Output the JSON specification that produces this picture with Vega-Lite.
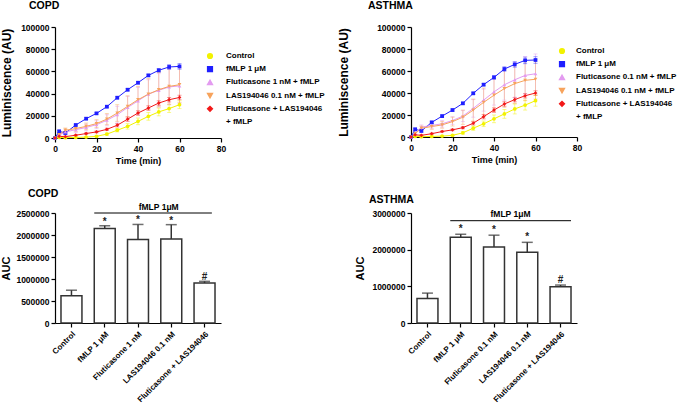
{
"$schema":"https://vega.github.io/schema/vega-lite/v6.json",
"background":"white",
"padding":{"left":0,"top":0,"right":0,"bottom":0},
"config":{
 "font":"Liberation Sans",
 "view":{"stroke":null},
 "axis":{"domainColor":"black","tickColor":"black","labelColor":"black","titleColor":"black","labelFont":"Liberation Sans","titleFont":"Liberation Sans","labelFontWeight":"bold","titleFontWeight":"bold","labelFontSize":8.5,"grid":false,"tickSize":4,"domainWidth":1.2,"tickWidth":1.2,"labelPadding":2,"labelOverlap":false,"labelFlush":false},
 "title":{"font":"Liberation Sans","fontWeight":"bold","fontSize":10.5,"color":"black"},
 "legend":{"labelFont":"Liberation Sans","labelFontWeight":"bold","labelFontSize":8,"labelColor":"black","symbolOpacity":1}
},
"datasets":{
"copd_lines":[
{"s":"Control","t":0,"v":0,"lo":0,"hi":0},{"s":"Control","t":2,"v":500,"lo":200,"hi":800},{"s":"Control","t":5,"v":300,"lo":0,"hi":600},{"s":"Control","t":10,"v":500,"lo":200,"hi":800},{"s":"Control","t":15,"v":800,"lo":400,"hi":1200},{"s":"Control","t":20,"v":1500,"lo":900,"hi":2100},{"s":"Control","t":25,"v":3500,"lo":2500,"hi":4500},{"s":"Control","t":30,"v":7000,"lo":5500,"hi":8500},{"s":"Control","t":35,"v":10500,"lo":8000,"hi":13000},{"s":"Control","t":40,"v":15000,"lo":12000,"hi":18000},{"s":"Control","t":45,"v":19500,"lo":16000,"hi":23000},{"s":"Control","t":50,"v":23500,"lo":20000,"hi":27000},{"s":"Control","t":55,"v":26500,"lo":23000,"hi":30000},{"s":"Control","t":60,"v":30000,"lo":26500,"hi":33500},
{"s":"fMLP 1 μM","t":0,"v":0,"lo":0,"hi":0},{"s":"fMLP 1 μM","t":2,"v":6000,"lo":5000,"hi":7000},{"s":"fMLP 1 μM","t":5,"v":4500,"lo":3500,"hi":5500},{"s":"fMLP 1 μM","t":10,"v":11700,"lo":10900,"hi":12500},{"s":"fMLP 1 μM","t":15,"v":17400,"lo":16600,"hi":18200},{"s":"fMLP 1 μM","t":20,"v":22200,"lo":21400,"hi":23000},{"s":"fMLP 1 μM","t":25,"v":28200,"lo":27400,"hi":29000},{"s":"fMLP 1 μM","t":30,"v":36300,"lo":35300,"hi":37300},{"s":"fMLP 1 μM","t":35,"v":43500,"lo":42500,"hi":44500},{"s":"fMLP 1 μM","t":40,"v":49800,"lo":48800,"hi":50800},{"s":"fMLP 1 μM","t":45,"v":56400,"lo":55400,"hi":57400},{"s":"fMLP 1 μM","t":50,"v":61000,"lo":59500,"hi":62500},{"s":"fMLP 1 μM","t":55,"v":64000,"lo":62000,"hi":66000},{"s":"fMLP 1 μM","t":60,"v":64500,"lo":62000,"hi":67000},
{"s":"Fluticasone 1 nM + fMLP","t":0,"v":0,"lo":0,"hi":0},{"s":"Fluticasone 1 nM + fMLP","t":2,"v":2500,"lo":1000,"hi":4000},{"s":"Fluticasone 1 nM + fMLP","t":5,"v":5500,"lo":3500,"hi":7500},{"s":"Fluticasone 1 nM + fMLP","t":10,"v":7500,"lo":5000,"hi":10000},{"s":"Fluticasone 1 nM + fMLP","t":15,"v":9500,"lo":6500,"hi":12500},{"s":"Fluticasone 1 nM + fMLP","t":20,"v":12000,"lo":8500,"hi":15500},{"s":"Fluticasone 1 nM + fMLP","t":25,"v":16000,"lo":11000,"hi":21000},{"s":"Fluticasone 1 nM + fMLP","t":30,"v":21000,"lo":13500,"hi":28500},{"s":"Fluticasone 1 nM + fMLP","t":35,"v":27500,"lo":17500,"hi":37500},{"s":"Fluticasone 1 nM + fMLP","t":40,"v":33500,"lo":21500,"hi":45500},{"s":"Fluticasone 1 nM + fMLP","t":45,"v":39500,"lo":26500,"hi":52500},{"s":"Fluticasone 1 nM + fMLP","t":50,"v":43000,"lo":28000,"hi":58000},{"s":"Fluticasone 1 nM + fMLP","t":55,"v":46000,"lo":30000,"hi":62000},{"s":"Fluticasone 1 nM + fMLP","t":60,"v":47000,"lo":31000,"hi":63000},
{"s":"LAS194046 0.1 nM + fMLP","t":0,"v":0,"lo":0,"hi":0},{"s":"LAS194046 0.1 nM + fMLP","t":2,"v":3000,"lo":1500,"hi":4500},{"s":"LAS194046 0.1 nM + fMLP","t":5,"v":7000,"lo":5000,"hi":9000},{"s":"LAS194046 0.1 nM + fMLP","t":10,"v":8500,"lo":6000,"hi":11000},{"s":"LAS194046 0.1 nM + fMLP","t":15,"v":10500,"lo":7500,"hi":13500},{"s":"LAS194046 0.1 nM + fMLP","t":20,"v":13000,"lo":9500,"hi":16500},{"s":"LAS194046 0.1 nM + fMLP","t":25,"v":17000,"lo":12000,"hi":22000},{"s":"LAS194046 0.1 nM + fMLP","t":30,"v":22500,"lo":15000,"hi":30000},{"s":"LAS194046 0.1 nM + fMLP","t":35,"v":28500,"lo":19000,"hi":38000},{"s":"LAS194046 0.1 nM + fMLP","t":40,"v":34500,"lo":22500,"hi":46500},{"s":"LAS194046 0.1 nM + fMLP","t":45,"v":39500,"lo":25500,"hi":53500},{"s":"LAS194046 0.1 nM + fMLP","t":50,"v":43500,"lo":28000,"hi":59000},{"s":"LAS194046 0.1 nM + fMLP","t":55,"v":46500,"lo":30500,"hi":62500},{"s":"LAS194046 0.1 nM + fMLP","t":60,"v":48000,"lo":32000,"hi":64000},
{"s":"Fluticasone + LAS194046 + fMLP","t":0,"v":0,"lo":0,"hi":0},{"s":"Fluticasone + LAS194046 + fMLP","t":2,"v":1500,"lo":1000,"hi":2000},{"s":"Fluticasone + LAS194046 + fMLP","t":5,"v":1200,"lo":700,"hi":1700},{"s":"Fluticasone + LAS194046 + fMLP","t":10,"v":2500,"lo":1900,"hi":3100},{"s":"Fluticasone + LAS194046 + fMLP","t":15,"v":4000,"lo":3300,"hi":4700},{"s":"Fluticasone + LAS194046 + fMLP","t":20,"v":5500,"lo":4700,"hi":6300},{"s":"Fluticasone + LAS194046 + fMLP","t":25,"v":7800,"lo":6800,"hi":8800},{"s":"Fluticasone + LAS194046 + fMLP","t":30,"v":11500,"lo":10000,"hi":13000},{"s":"Fluticasone + LAS194046 + fMLP","t":35,"v":17000,"lo":15000,"hi":19000},{"s":"Fluticasone + LAS194046 + fMLP","t":40,"v":22500,"lo":20500,"hi":24500},{"s":"Fluticasone + LAS194046 + fMLP","t":45,"v":27000,"lo":25000,"hi":29000},{"s":"Fluticasone + LAS194046 + fMLP","t":50,"v":31500,"lo":29500,"hi":33500},{"s":"Fluticasone + LAS194046 + fMLP","t":55,"v":34500,"lo":32500,"hi":36500},{"s":"Fluticasone + LAS194046 + fMLP","t":60,"v":36500,"lo":34500,"hi":38500}
],
"asthma_lines":[
{"s":"Control","t":0,"v":0,"lo":0,"hi":0},{"s":"Control","t":2,"v":500,"lo":200,"hi":800},{"s":"Control","t":5,"v":300,"lo":0,"hi":600},{"s":"Control","t":10,"v":500,"lo":200,"hi":800},{"s":"Control","t":15,"v":800,"lo":400,"hi":1200},{"s":"Control","t":20,"v":1500,"lo":900,"hi":2100},{"s":"Control","t":25,"v":3800,"lo":2600,"hi":5000},{"s":"Control","t":30,"v":8000,"lo":6000,"hi":10000},{"s":"Control","t":35,"v":12000,"lo":9500,"hi":14500},{"s":"Control","t":40,"v":16500,"lo":13000,"hi":20000},{"s":"Control","t":45,"v":21000,"lo":17000,"hi":25000},{"s":"Control","t":50,"v":25500,"lo":21000,"hi":30000},{"s":"Control","t":55,"v":29000,"lo":24500,"hi":33500},{"s":"Control","t":60,"v":33000,"lo":28000,"hi":38000},
{"s":"fMLP 1 μM","t":0,"v":0,"lo":0,"hi":0},{"s":"fMLP 1 μM","t":2,"v":7000,"lo":6000,"hi":8000},{"s":"fMLP 1 μM","t":5,"v":5500,"lo":4500,"hi":6500},{"s":"fMLP 1 μM","t":10,"v":13300,"lo":12300,"hi":14300},{"s":"fMLP 1 μM","t":15,"v":19000,"lo":18000,"hi":20000},{"s":"fMLP 1 μM","t":20,"v":24500,"lo":23500,"hi":25500},{"s":"fMLP 1 μM","t":25,"v":30600,"lo":29600,"hi":31600},{"s":"fMLP 1 μM","t":30,"v":39700,"lo":38700,"hi":40700},{"s":"fMLP 1 μM","t":35,"v":47600,"lo":46600,"hi":48600},{"s":"fMLP 1 μM","t":40,"v":54200,"lo":52700,"hi":55700},{"s":"fMLP 1 μM","t":45,"v":61800,"lo":59800,"hi":63800},{"s":"fMLP 1 μM","t":50,"v":66000,"lo":63500,"hi":68500},{"s":"fMLP 1 μM","t":55,"v":69700,"lo":66700,"hi":72700},{"s":"fMLP 1 μM","t":60,"v":70000,"lo":67000,"hi":73000},
{"s":"Fluticasone 0.1 nM + fMLP","t":0,"v":0,"lo":0,"hi":0},{"s":"Fluticasone 0.1 nM + fMLP","t":2,"v":3000,"lo":1500,"hi":4500},{"s":"Fluticasone 0.1 nM + fMLP","t":5,"v":9000,"lo":7000,"hi":11000},{"s":"Fluticasone 0.1 nM + fMLP","t":10,"v":10500,"lo":8000,"hi":13000},{"s":"Fluticasone 0.1 nM + fMLP","t":15,"v":12000,"lo":9000,"hi":15000},{"s":"Fluticasone 0.1 nM + fMLP","t":20,"v":15000,"lo":11500,"hi":18500},{"s":"Fluticasone 0.1 nM + fMLP","t":25,"v":19000,"lo":14000,"hi":24000},{"s":"Fluticasone 0.1 nM + fMLP","t":30,"v":26000,"lo":18000,"hi":34000},{"s":"Fluticasone 0.1 nM + fMLP","t":35,"v":33500,"lo":23500,"hi":43500},{"s":"Fluticasone 0.1 nM + fMLP","t":40,"v":41000,"lo":29000,"hi":53000},{"s":"Fluticasone 0.1 nM + fMLP","t":45,"v":47500,"lo":33500,"hi":61500},{"s":"Fluticasone 0.1 nM + fMLP","t":50,"v":52000,"lo":36000,"hi":68000},{"s":"Fluticasone 0.1 nM + fMLP","t":55,"v":56000,"lo":39000,"hi":73000},{"s":"Fluticasone 0.1 nM + fMLP","t":60,"v":57500,"lo":39500,"hi":75500},
{"s":"LAS194046 0.1 nM + fMLP","t":0,"v":0,"lo":0,"hi":0},{"s":"LAS194046 0.1 nM + fMLP","t":2,"v":3000,"lo":1500,"hi":4500},{"s":"LAS194046 0.1 nM + fMLP","t":5,"v":8000,"lo":6000,"hi":10000},{"s":"LAS194046 0.1 nM + fMLP","t":10,"v":9500,"lo":7000,"hi":12000},{"s":"LAS194046 0.1 nM + fMLP","t":15,"v":11000,"lo":8000,"hi":14000},{"s":"LAS194046 0.1 nM + fMLP","t":20,"v":14000,"lo":10000,"hi":18000},{"s":"LAS194046 0.1 nM + fMLP","t":25,"v":18000,"lo":11500,"hi":24500},{"s":"LAS194046 0.1 nM + fMLP","t":30,"v":24500,"lo":14500,"hi":34500},{"s":"LAS194046 0.1 nM + fMLP","t":35,"v":31500,"lo":18500,"hi":44500},{"s":"LAS194046 0.1 nM + fMLP","t":40,"v":38000,"lo":23000,"hi":53000},{"s":"LAS194046 0.1 nM + fMLP","t":45,"v":44000,"lo":27000,"hi":61000},{"s":"LAS194046 0.1 nM + fMLP","t":50,"v":48500,"lo":30500,"hi":66500},{"s":"LAS194046 0.1 nM + fMLP","t":55,"v":51500,"lo":33000,"hi":70000},{"s":"LAS194046 0.1 nM + fMLP","t":60,"v":52500,"lo":34500,"hi":70500},
{"s":"Fluticasone + LAS194046 + fMLP","t":0,"v":0,"lo":0,"hi":0},{"s":"Fluticasone + LAS194046 + fMLP","t":2,"v":2000,"lo":1500,"hi":2500},{"s":"Fluticasone + LAS194046 + fMLP","t":5,"v":1500,"lo":1000,"hi":2000},{"s":"Fluticasone + LAS194046 + fMLP","t":10,"v":3000,"lo":2500,"hi":3500},{"s":"Fluticasone + LAS194046 + fMLP","t":15,"v":5000,"lo":4400,"hi":5600},{"s":"Fluticasone + LAS194046 + fMLP","t":20,"v":6500,"lo":5700,"hi":7300},{"s":"Fluticasone + LAS194046 + fMLP","t":25,"v":8500,"lo":7500,"hi":9500},{"s":"Fluticasone + LAS194046 + fMLP","t":30,"v":12500,"lo":11000,"hi":14000},{"s":"Fluticasone + LAS194046 + fMLP","t":35,"v":18500,"lo":16500,"hi":20500},{"s":"Fluticasone + LAS194046 + fMLP","t":40,"v":24500,"lo":22500,"hi":26500},{"s":"Fluticasone + LAS194046 + fMLP","t":45,"v":30000,"lo":28000,"hi":32000},{"s":"Fluticasone + LAS194046 + fMLP","t":50,"v":34000,"lo":32000,"hi":36000},{"s":"Fluticasone + LAS194046 + fMLP","t":55,"v":37500,"lo":35500,"hi":39500},{"s":"Fluticasone + LAS194046 + fMLP","t":60,"v":40000,"lo":38000,"hi":42000}
],
"copd_auc":[
{"g":"Control","v":620000,"hi":745000,"m":""},
{"g":"fMLP 1 μM","v":2145000,"hi":2210000,"m":"*"},
{"g":"Fluticasone 1 nM","v":1895000,"hi":2240000,"m":"*"},
{"g":"LAS194046 0.1 nM","v":1910000,"hi":2235000,"m":"*"},
{"g":"Fluticasone + LAS194046","v":910000,"hi":947000,"m":"#"}
],
"asthma_auc":[
{"g":"Control","v":670000,"hi":815000,"m":""},
{"g":"fMLP 1 μM","v":2340000,"hi":2420000,"m":"*"},
{"g":"Fluticasone 0.1 nM","v":2072000,"hi":2395000,"m":"*"},
{"g":"LAS194046 0.1 nM","v":1927000,"hi":2200000,"m":"*"},
{"g":"Fluticasone + LAS194046","v":991000,"hi":1035000,"m":"#"}
],
"copd_ann":[{"a":"fMLP 1 μM","b":"Fluticasone + LAS194046","c":"LAS194046 0.1 nM","lev":2500000,"label":"fMLP 1μM"}],
"asthma_ann":[{"a":"fMLP 1 μM","b":"Fluticasone + LAS194046","c":"LAS194046 0.1 nM","lev":2790000,"label":"fMLP 1μM"}]
},
"columns":2,
"spacing":{"row":22,"column":12},
"align":"each",
"resolve":{"scale":{"color":"independent","shape":"independent","x":"independent","y":"independent"},"legend":{"color":"independent","shape":"independent"}},
"concat":[
{
 "width":166,"height":111,
 "title":{"text":"COPD","anchor":"start","frame":"group","dx":-26,"offset":12},
 "data":{"name":"copd_lines"},
 "encoding":{
  "x":{"field":"t","type":"quantitative","title":"Time (min)","scale":{"domain":[0,80],"nice":false},"axis":{"values":[0,20,40,60,80],"format":"d","titleFontSize":9,"titlePadding":4}},
  "y":{"field":"v","type":"quantitative","title":"Luminiscence (AU)","scale":{"domain":[0,100000],"nice":false},"axis":{"values":[0,20000,40000,60000,80000,100000],"format":"d","titleFontSize":12,"titlePadding":7,"labelOverlap":false}},
  "color":{"field":"s","type":"nominal","scale":{"domain":["Control","fMLP 1 μM","Fluticasone 1 nM + fMLP","LAS194046 0.1 nM + fMLP","Fluticasone + LAS194046 + fMLP","+ fMLP"],"range":["#F2F200","#1F1FFF","#E39BF0","#F7A35C","#F21818","transparent"]},"legend":{"orient":"none","legendX":151,"legendY":25,"title":null,"symbolSize":22,"rowPadding":1.2,"labelOffset":12,"labelExpr":"datum.label == 'Fluticasone + LAS194046 + fMLP' ? 'Fluticasone + LAS194046' : datum.label"}}
 },
 "layer":[
  {"mark":{"type":"rule","opacity":0.45,"strokeWidth":1},"encoding":{"y":{"field":"lo","type":"quantitative","title":"Luminiscence (AU)","scale":{"domain":[0,100000],"nice":false},"axis":{"values":[0,20000,40000,60000,80000,100000],"format":"d","titleFontSize":12,"titlePadding":7,"labelOverlap":false}},"y2":{"field":"hi"}}},
  {"mark":{"type":"tick","orient":"horizontal","size":4,"thickness":1,"opacity":0.45},"encoding":{"y":{"field":"hi","type":"quantitative","title":"Luminiscence (AU)","scale":{"domain":[0,100000],"nice":false},"axis":{"values":[0,20000,40000,60000,80000,100000],"format":"d","titleFontSize":12,"titlePadding":7,"labelOverlap":false}}}},
  {"mark":{"type":"tick","orient":"horizontal","size":4,"thickness":1,"opacity":0.45},"encoding":{"y":{"field":"lo","type":"quantitative","title":"Luminiscence (AU)","scale":{"domain":[0,100000],"nice":false},"axis":{"values":[0,20000,40000,60000,80000,100000],"format":"d","titleFontSize":12,"titlePadding":7,"labelOverlap":false}}}},
  {"mark":{"type":"line","strokeWidth":1}},
  {"mark":{"type":"point","filled":true,"size":14,"opacity":1},"encoding":{"shape":{"field":"s","type":"nominal","scale":{"domain":["Control","fMLP 1 μM","Fluticasone 1 nM + fMLP","LAS194046 0.1 nM + fMLP","Fluticasone + LAS194046 + fMLP","+ fMLP"],"range":["circle","square","triangle-up","triangle-down","diamond","circle"]},"legend":{"orient":"none","legendX":151,"legendY":25,"title":null,"symbolSize":22,"rowPadding":1.2,"labelOffset":12,"labelExpr":"datum.label == 'Fluticasone + LAS194046 + fMLP' ? 'Fluticasone + LAS194046' : datum.label"}}}}
 ]
},
{
 "width":166,"height":110,
 "title":{"text":"ASTHMA","anchor":"start","frame":"group","dx":-43,"offset":12},
 "data":{"name":"asthma_lines"},
 "encoding":{
  "x":{"field":"t","type":"quantitative","title":"Time (min)","scale":{"domain":[0,80],"nice":false},"axis":{"values":[0,20,40,60,80],"format":"d","titleFontSize":9,"titlePadding":4}},
  "y":{"field":"v","type":"quantitative","title":"Luminiscence (AU)","scale":{"domain":[0,100000],"nice":false},"axis":{"values":[0,20000,40000,60000,80000,100000],"format":"d","titleFontSize":12,"titlePadding":26,"labelOverlap":false}},
  "color":{"field":"s","type":"nominal","scale":{"domain":["Control","fMLP 1 μM","Fluticasone 0.1 nM + fMLP","LAS194046 0.1 nM + fMLP","Fluticasone + LAS194046 + fMLP","+ fMLP"],"range":["#F2F200","#1F1FFF","#E39BF0","#F7A35C","#F21818","transparent"]},"legend":{"orient":"none","legendX":147,"legendY":20,"title":null,"symbolSize":22,"rowPadding":1.2,"labelOffset":10,"labelExpr":"datum.label == 'Fluticasone + LAS194046 + fMLP' ? 'Fluticasone + LAS194046' : datum.label"}}
 },
 "layer":[
  {"mark":{"type":"rule","opacity":0.45,"strokeWidth":1},"encoding":{"y":{"field":"lo","type":"quantitative","title":"Luminiscence (AU)","scale":{"domain":[0,100000],"nice":false},"axis":{"values":[0,20000,40000,60000,80000,100000],"format":"d","titleFontSize":12,"titlePadding":26,"labelOverlap":false}},"y2":{"field":"hi"}}},
  {"mark":{"type":"tick","orient":"horizontal","size":4,"thickness":1,"opacity":0.45},"encoding":{"y":{"field":"hi","type":"quantitative","title":"Luminiscence (AU)","scale":{"domain":[0,100000],"nice":false},"axis":{"values":[0,20000,40000,60000,80000,100000],"format":"d","titleFontSize":12,"titlePadding":26,"labelOverlap":false}}}},
  {"mark":{"type":"tick","orient":"horizontal","size":4,"thickness":1,"opacity":0.45},"encoding":{"y":{"field":"lo","type":"quantitative","title":"Luminiscence (AU)","scale":{"domain":[0,100000],"nice":false},"axis":{"values":[0,20000,40000,60000,80000,100000],"format":"d","titleFontSize":12,"titlePadding":26,"labelOverlap":false}}}},
  {"mark":{"type":"line","strokeWidth":1}},
  {"mark":{"type":"point","filled":true,"size":14,"opacity":1},"encoding":{"shape":{"field":"s","type":"nominal","scale":{"domain":["Control","fMLP 1 μM","Fluticasone 0.1 nM + fMLP","LAS194046 0.1 nM + fMLP","Fluticasone + LAS194046 + fMLP","+ fMLP"],"range":["circle","square","triangle-up","triangle-down","diamond","circle"]},"legend":{"orient":"none","legendX":147,"legendY":20,"title":null,"symbolSize":22,"rowPadding":1.2,"labelOffset":10,"labelExpr":"datum.label == 'Fluticasone + LAS194046 + fMLP' ? 'Fluticasone + LAS194046' : datum.label"}}}}
 ]
},
{
 "width":166,"height":110,
 "title":{"text":"COPD","anchor":"start","frame":"group","dx":-27,"offset":4},
 "layer":[
  {"data":{"name":"copd_auc"},
   "encoding":{"x":{"field":"g","type":"nominal","title":null,"scale":{"domain":["Control","fMLP 1 μM","Fluticasone 1 nM","LAS194046 0.1 nM","Fluticasone + LAS194046"],"paddingInner":0.37,"paddingOuter":0.18},"axis":{"labelAngle":-45,"labelFontSize":8,"labelPadding":3}}},
   "layer":[
    {"mark":{"type":"bar","fill":"white","stroke":"#333333","strokeWidth":1.5},"encoding":{"y":{"field":"v","type":"quantitative","title":"AUC","scale":{"domain":[0,2500000],"nice":false},"axis":{"values":[0,500000,1000000,1500000,2000000,2500000],"format":"d","titleFontSize":11,"titlePadding":4,"labelOverlap":false}}}},
    {"mark":{"type":"rule","color":"#333333","strokeWidth":1.5},"encoding":{"y":{"field":"v","type":"quantitative","title":"AUC","scale":{"domain":[0,2500000],"nice":false},"axis":{"values":[0,500000,1000000,1500000,2000000,2500000],"format":"d","titleFontSize":11,"titlePadding":4,"labelOverlap":false}},"y2":{"field":"hi"}}},
    {"mark":{"type":"tick","orient":"horizontal","color":"#333333","size":11,"thickness":1.5},"encoding":{"y":{"field":"hi","type":"quantitative","title":"AUC","scale":{"domain":[0,2500000],"nice":false},"axis":{"values":[0,500000,1000000,1500000,2000000,2500000],"format":"d","titleFontSize":11,"titlePadding":4,"labelOverlap":false}}}},
    {"mark":{"type":"text","fontWeight":"bold","fontSize":10,"baseline":"alphabetic","dy":-1,"color":"#222222"},"encoding":{"y":{"field":"hi","type":"quantitative","title":"AUC","scale":{"domain":[0,2500000],"nice":false},"axis":{"values":[0,500000,1000000,1500000,2000000,2500000],"format":"d","titleFontSize":11,"titlePadding":4,"labelOverlap":false}},"text":{"field":"m"}}}
   ]},
  {"data":{"name":"copd_ann"},
   "layer":[
    {"mark":{"type":"rule","color":"black","strokeWidth":1},"encoding":{"x":{"field":"a","type":"nominal","bandPosition":0,"title":null,"scale":{"domain":["Control","fMLP 1 μM","Fluticasone 1 nM","LAS194046 0.1 nM","Fluticasone + LAS194046"]},"axis":{"labelAngle":-45,"labelFontSize":8,"labelPadding":3}},"x2":{"field":"b","bandPosition":0.85},"y":{"field":"lev","type":"quantitative","title":"AUC","scale":{"domain":[0,2500000],"nice":false},"axis":{"values":[0,500000,1000000,1500000,2000000,2500000],"format":"d","titleFontSize":11,"titlePadding":4,"labelOverlap":false}}}},
    {"mark":{"type":"text","fontWeight":"bold","fontSize":8.5,"baseline":"alphabetic","dy":-3},"encoding":{"x":{"field":"c","type":"nominal","bandPosition":-0.1,"title":null,"scale":{"domain":["Control","fMLP 1 μM","Fluticasone 1 nM","LAS194046 0.1 nM","Fluticasone + LAS194046"]},"axis":{"labelAngle":-45,"labelFontSize":8,"labelPadding":3}},"y":{"field":"lev","type":"quantitative","title":"AUC","scale":{"domain":[0,2500000],"nice":false},"axis":{"values":[0,500000,1000000,1500000,2000000,2500000],"format":"d","titleFontSize":11,"titlePadding":4,"labelOverlap":false}},"text":{"field":"label"}}}
   ]}
 ]
},
{
 "width":166,"height":110,
 "title":{"text":"ASTHMA","anchor":"start","frame":"group","dx":-42,"offset":4},
 "layer":[
  {"data":{"name":"asthma_auc"},
   "encoding":{"x":{"field":"g","type":"nominal","title":null,"scale":{"domain":["Control","fMLP 1 μM","Fluticasone 0.1 nM","LAS194046 0.1 nM","Fluticasone + LAS194046"],"paddingInner":0.37,"paddingOuter":0.18},"axis":{"labelAngle":-45,"labelFontSize":8,"labelPadding":3}}},
   "layer":[
    {"mark":{"type":"bar","fill":"white","stroke":"#333333","strokeWidth":1.5},"encoding":{"y":{"field":"v","type":"quantitative","title":"AUC","scale":{"domain":[0,3000000],"nice":false},"axis":{"values":[0,1000000,2000000,3000000],"format":"d","titleFontSize":11,"titlePadding":6,"labelOverlap":false}}}},
    {"mark":{"type":"rule","color":"#333333","strokeWidth":1.5},"encoding":{"y":{"field":"v","type":"quantitative","title":"AUC","scale":{"domain":[0,3000000],"nice":false},"axis":{"values":[0,1000000,2000000,3000000],"format":"d","titleFontSize":11,"titlePadding":6,"labelOverlap":false}},"y2":{"field":"hi"}}},
    {"mark":{"type":"tick","orient":"horizontal","color":"#333333","size":11,"thickness":1.5},"encoding":{"y":{"field":"hi","type":"quantitative","title":"AUC","scale":{"domain":[0,3000000],"nice":false},"axis":{"values":[0,1000000,2000000,3000000],"format":"d","titleFontSize":11,"titlePadding":6,"labelOverlap":false}}}},
    {"mark":{"type":"text","fontWeight":"bold","fontSize":10,"baseline":"alphabetic","dy":-2,"color":"#222222"},"encoding":{"y":{"field":"hi","type":"quantitative","title":"AUC","scale":{"domain":[0,3000000],"nice":false},"axis":{"values":[0,1000000,2000000,3000000],"format":"d","titleFontSize":11,"titlePadding":6,"labelOverlap":false}},"text":{"field":"m"}}}
   ]},
  {"data":{"name":"asthma_ann"},
   "layer":[
    {"mark":{"type":"rule","color":"black","strokeWidth":1},"encoding":{"x":{"field":"a","type":"nominal","bandPosition":0,"title":null,"scale":{"domain":["Control","fMLP 1 μM","Fluticasone 0.1 nM","LAS194046 0.1 nM","Fluticasone + LAS194046"]},"axis":{"labelAngle":-45,"labelFontSize":8,"labelPadding":3}},"x2":{"field":"b","bandPosition":1},"y":{"field":"lev","type":"quantitative","title":"AUC","scale":{"domain":[0,3000000],"nice":false},"axis":{"values":[0,1000000,2000000,3000000],"format":"d","titleFontSize":11,"titlePadding":6,"labelOverlap":false}}}},
    {"mark":{"type":"text","fontWeight":"bold","fontSize":8.5,"baseline":"alphabetic","dy":-3.5},"encoding":{"x":{"field":"c","type":"nominal","bandPosition":-0.3,"title":null,"scale":{"domain":["Control","fMLP 1 μM","Fluticasone 0.1 nM","LAS194046 0.1 nM","Fluticasone + LAS194046"]},"axis":{"labelAngle":-45,"labelFontSize":8,"labelPadding":3}},"y":{"field":"lev","type":"quantitative","title":"AUC","scale":{"domain":[0,3000000],"nice":false},"axis":{"values":[0,1000000,2000000,3000000],"format":"d","titleFontSize":11,"titlePadding":6,"labelOverlap":false}},"text":{"field":"label"}}}
   ]}
 ]
}
]
}
